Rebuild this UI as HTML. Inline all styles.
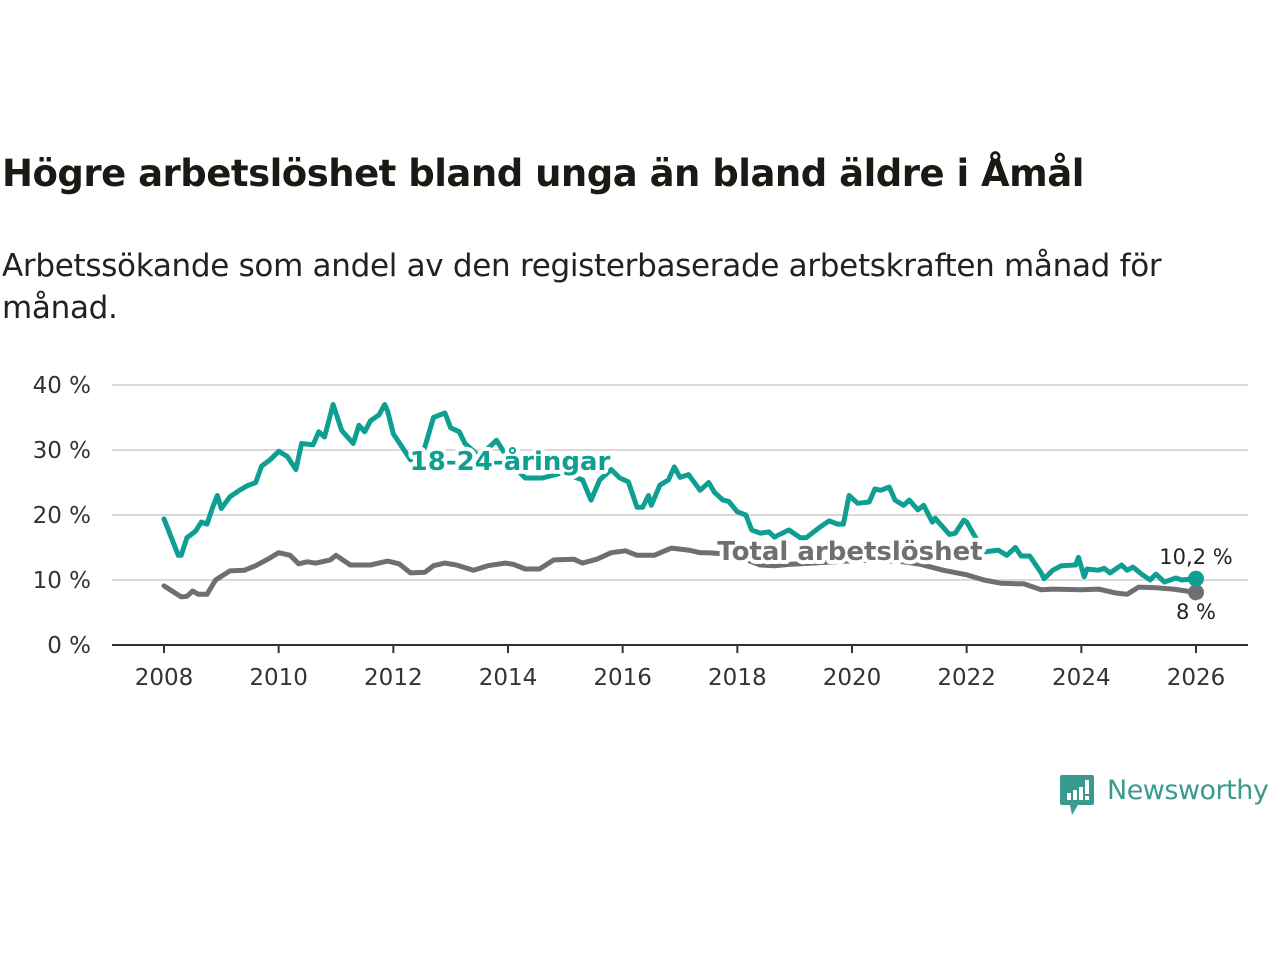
<!DOCTYPE html>
<html><head><meta charset="utf-8">
<style>
body{margin:0;width:1280px;height:960px;background:#fff;overflow:hidden;font-family:"Liberation Sans","DejaVu Sans",sans-serif;}
#title{position:absolute;left:2px;top:152px;font-size:37px;font-weight:bold;color:#1a1a14;font-family:"DejaVu Sans","Liberation Sans",sans-serif;letter-spacing:-0.5px;white-space:nowrap;}
#sub{position:absolute;left:2px;top:245px;font-size:31px;line-height:42px;color:#222;width:1220px;font-family:"DejaVu Sans","Liberation Sans",sans-serif;letter-spacing:-0.3px;}
svg{position:absolute;left:0;top:0;}
</style></head><body>
<div id="title">Högre arbetslöshet bland unga än bland äldre i Åmål</div>
<div id="sub">Arbetssökande som andel av den registerbaserade arbetskraften månad för månad.</div>
<svg id="chart" width="1280" height="960"></svg>
<script>
const yTicks=[0,10,20,30,40];
const xTicks=[2008,2010,2012,2014,2016,2018,2020,2022,2024,2026];
const youthDates=[2008.0,2008.25,2008.3,2008.4,2008.55,2008.65,2008.75,2008.85,2008.93,2009.0,2009.15,2009.3,2009.45,2009.6,2009.7,2009.85,2010.0,2010.15,2010.3,2010.4,2010.6,2010.7,2010.8,2010.95,2011.1,2011.3,2011.4,2011.5,2011.6,2011.75,2011.85,2011.9,2012.0,2012.15,2012.3,2012.45,2012.55,2012.7,2012.9,2013.0,2013.15,2013.25,2013.5,2013.8,2014.05,2014.3,2014.6,2014.95,2015.3,2015.45,2015.6,2015.8,2015.95,2016.1,2016.25,2016.35,2016.45,2016.5,2016.65,2016.8,2016.9,2017.0,2017.15,2017.35,2017.5,2017.6,2017.75,2017.85,2018.0,2018.15,2018.25,2018.4,2018.55,2018.65,2018.85,2018.9,2019.1,2019.2,2019.45,2019.6,2019.75,2019.85,2019.95,2020.1,2020.3,2020.4,2020.5,2020.65,2020.75,2020.9,2021.0,2021.15,2021.25,2021.4,2021.45,2021.55,2021.7,2021.8,2021.95,2022.0,2022.15,2022.3,2022.55,2022.7,2022.85,2022.95,2023.1,2023.3,2023.35,2023.5,2023.65,2023.9,2023.95,2024.05,2024.1,2024.3,2024.4,2024.5,2024.7,2024.8,2024.9,2025.05,2025.2,2025.3,2025.45,2025.65,2025.75,2026.0];
const youthValues=[19.4,13.8,13.8,16.5,17.5,18.9,18.6,21.2,23,21,22.8,23.7,24.5,25,27.5,28.5,29.8,29,27,31,30.8,32.8,32,37,33,31,33.8,32.8,34.5,35.4,37,36,32.5,30.5,28.5,29,30.5,35,35.7,33.4,32.8,31,29,31.5,28,25.7,25.7,26.5,25.4,22.3,25.4,27,25.7,25.1,21.2,21.2,23,21.5,24.6,25.4,27.4,25.8,26.2,23.8,25,23.5,22.3,22.1,20.5,20,17.7,17.2,17.4,16.6,17.5,17.7,16.5,16.5,18.2,19.1,18.6,18.6,23,21.8,22,24,23.8,24.3,22.3,21.5,22.3,20.8,21.5,18.9,19.5,18.5,17,17.2,19.2,18.9,16.6,14.3,14.6,13.8,15,13.7,13.7,11.1,10.2,11.5,12.2,12.3,13.5,10.5,11.7,11.5,11.8,11.1,12.3,11.5,12,10.9,10,10.9,9.7,10.3,10,10.2];
const totalDates=[2008.0,2008.3,2008.4,2008.5,2008.6,2008.75,2008.9,2009.15,2009.4,2009.6,2009.85,2010.0,2010.2,2010.35,2010.5,2010.65,2010.9,2011.0,2011.25,2011.6,2011.9,2012.1,2012.3,2012.55,2012.7,2012.9,2013.1,2013.4,2013.65,2013.95,2014.1,2014.3,2014.55,2014.8,2015.15,2015.3,2015.55,2015.8,2016.05,2016.25,2016.55,2016.85,2017.15,2017.35,2017.5,2017.8,2018.05,2018.4,2018.65,2018.9,2019.3,2019.7,2020.1,2020.5,2020.9,2021.2,2021.6,2022.0,2022.3,2022.6,2023.0,2023.3,2023.5,2024.0,2024.3,2024.6,2024.8,2025.0,2025.3,2025.6,2026.0];
const totalValues=[9.1,7.4,7.5,8.3,7.8,7.8,10,11.4,11.5,12.2,13.4,14.2,13.8,12.5,12.8,12.6,13.1,13.8,12.3,12.3,12.9,12.5,11.1,11.2,12.2,12.6,12.3,11.5,12.2,12.6,12.4,11.7,11.7,13.1,13.2,12.6,13.2,14.2,14.5,13.8,13.8,14.9,14.6,14.2,14.2,14,13.5,12.3,12.2,12.4,12.6,12.8,13,13,12.8,12.4,11.5,10.8,10,9.5,9.4,8.5,8.6,8.5,8.6,8,7.8,8.9,8.8,8.6,8.1];
const youthLast="10,2 %", totalLast="8 %";

const NS="http://www.w3.org/2000/svg";
const svg=document.getElementById('chart');
const X0=112,X1=1248,Y0=645,Y40=385;
const xs=d=>164+(d-2008)*(1196-164)/18;
const ys=v=>Y0-(v/40)*(Y0-Y40);
function el(t,a,p){const e=document.createElementNS(NS,t);for(const k in a)e.setAttribute(k,a[k]);(p||svg).appendChild(e);return e;}
yTicks.forEach(t=>{
  const g=el('line',{x1:X0,x2:X1,y1:ys(t),y2:ys(t),stroke:t===0?'#333':'#d9d9d9','stroke-width':2});
  
  
  const tx=el('text',{x:91,y:ys(t)+8,'text-anchor':'end','font-size':23,fill:'#333','font-family':'DejaVu Sans, Liberation Sans, sans-serif'});
  tx.textContent=t+' %';
  
  
});
xTicks.forEach(t=>{
  const l=el('line',{x1:xs(t),x2:xs(t),y1:Y0,y2:Y0+8,stroke:'#333','stroke-width':2});
  
  
  const tx=el('text',{x:xs(t),y:685,'text-anchor':'middle','font-size':23,fill:'#333','font-family':'DejaVu Sans, Liberation Sans, sans-serif'});
  tx.textContent=t;
  
  
});
function line(dates,vals,color,name){
  const p=el('path',{d:dates.map((d,i)=>(i?'L':'M')+xs(d).toFixed(1)+','+ys(vals[i]).toFixed(1)).join(''),fill:'none',stroke:color,'stroke-width':5,'stroke-linejoin':'round','stroke-linecap':'round'});
  
  
}
line(totalDates,totalValues,'#6e6e73','total-line');
line(youthDates,youthValues,'#0f9e92','youth-line');
function lbl(x,y,txt,color,name,anchor,size,weight,halo){
  const t=el('text',{x:x,y:y,'text-anchor':anchor,'font-size':size,'font-weight':weight,fill:color,'font-family':'DejaVu Sans, Liberation Sans, sans-serif',stroke:halo?'#fff':'none','stroke-width':halo?8:0,'paint-order':'stroke','stroke-linejoin':'round'});
  t.textContent=txt;
  
  
}
lbl(510,470,'18-24-åringar','#0f9e92','youth-series-label','middle',26,'bold',true);
lbl(850,560,'Total arbetslöshet','#6e6e73','total-series-label','middle',26,'bold',true);
const d1=el('circle',{cx:xs(totalDates[totalDates.length-1]),cy:ys(totalValues[totalValues.length-1]),r:8,fill:'#6e6e73'});


const d2=el('circle',{cx:xs(youthDates[youthDates.length-1]),cy:ys(youthValues[youthValues.length-1]),r:8,fill:'#0f9e92'});


lbl(1196,564,youthLast,'#222','youth-end-value','middle',21,'normal',true);
lbl(1196,619,totalLast,'#222','total-end-value','middle',21,'normal',true);
</script>
<div style="position:absolute;left:1060px;top:775px;">
<svg width="36" height="42" style="position:absolute;left:0;top:0"><path d="M2 0H32a2 2 0 0 1 2 2V28a2 2 0 0 1-2 2H18L12 40L10 30H2a2 2 0 0 1-2-2V2a2 2 0 0 1 2-2Z" fill="#3a9a8f"/><rect x="7" y="18" width="4" height="7" fill="#fff"/><rect x="13" y="15" width="4" height="10" fill="#fff"/><rect x="19" y="12" width="4" height="13" fill="#fff"/><rect x="25" y="5" width="4" height="14" fill="#fff"/><rect x="25" y="21" width="4" height="4" fill="#fff"/></svg>
<div style="position:absolute;left:47px;top:0px;font-size:27px;color:#3a9a8f;font-family:'DejaVu Sans','Liberation Sans',sans-serif;white-space:nowrap;letter-spacing:-0.5px">Newsworthy</div>
</div>
</body></html>
